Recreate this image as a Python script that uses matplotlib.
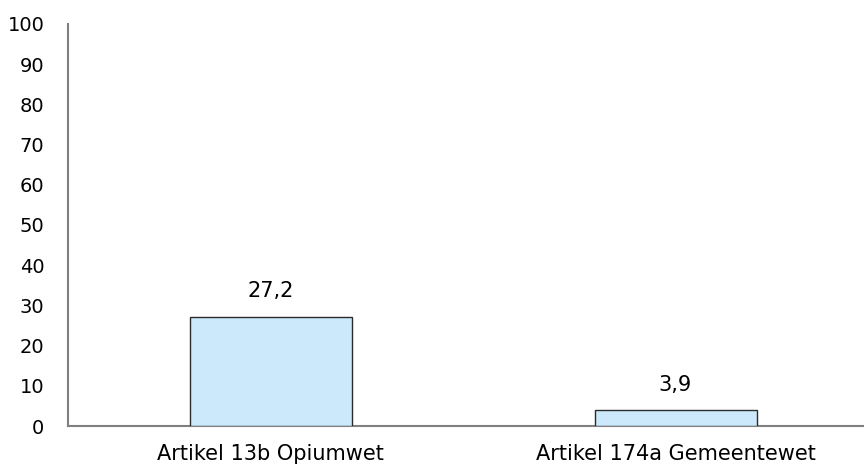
import matplotlib
matplotlib.use('Agg')
import matplotlib.pyplot as plt

# Data
categories = ['Artikel 13b Opiumwet', 'Artikel 174a Gemeentewet']
values = [27.2, 3.9]
value_labels = ['27,2', '3,9']
yticks = list(range(0, 101, 10))

plt.rcParams['font.family'] = ['DejaVu Sans']

W, H = 864, 466
fig = plt.figure(figsize=(W / 100, H / 100), dpi=100)
# axes in pixel coords: left 68, right 878 (runs past the edge), bottom 426, top 24
ax = fig.add_axes([68 / W, (H - 426) / H, 810 / W, 402 / H])

x = list(range(len(categories)))
ax.bar(x, values, width=0.4, color='#cce9fc', edgecolor='#2b2b2b', linewidth=1.0, zorder=3)

for xi, v, lab in zip(x, values, value_labels):
    ax.annotate(lab, (xi, v), xytext=(0, 11), textcoords='offset points',
                ha='center', va='bottom', fontsize=15, color='black')

ax.set_xlim(-0.5, len(categories) - 0.5)
ax.set_ylim(0, 100)
ax.set_yticks(yticks)
ax.set_yticklabels([str(t) for t in yticks], fontsize=14)
ax.set_xticks(x)
ax.set_xticklabels(categories, fontsize=15)
ax.tick_params(axis='both', length=0)
ax.tick_params(axis='y', pad=17)
ax.tick_params(axis='x', pad=13)

for s in ['top', 'right']:
    ax.spines[s].set_visible(False)
for s in ['left', 'bottom']:
    ax.spines[s].set_color('#808080')
    ax.spines[s].set_linewidth(1.5)

fig.savefig('out.png', dpi=100)
